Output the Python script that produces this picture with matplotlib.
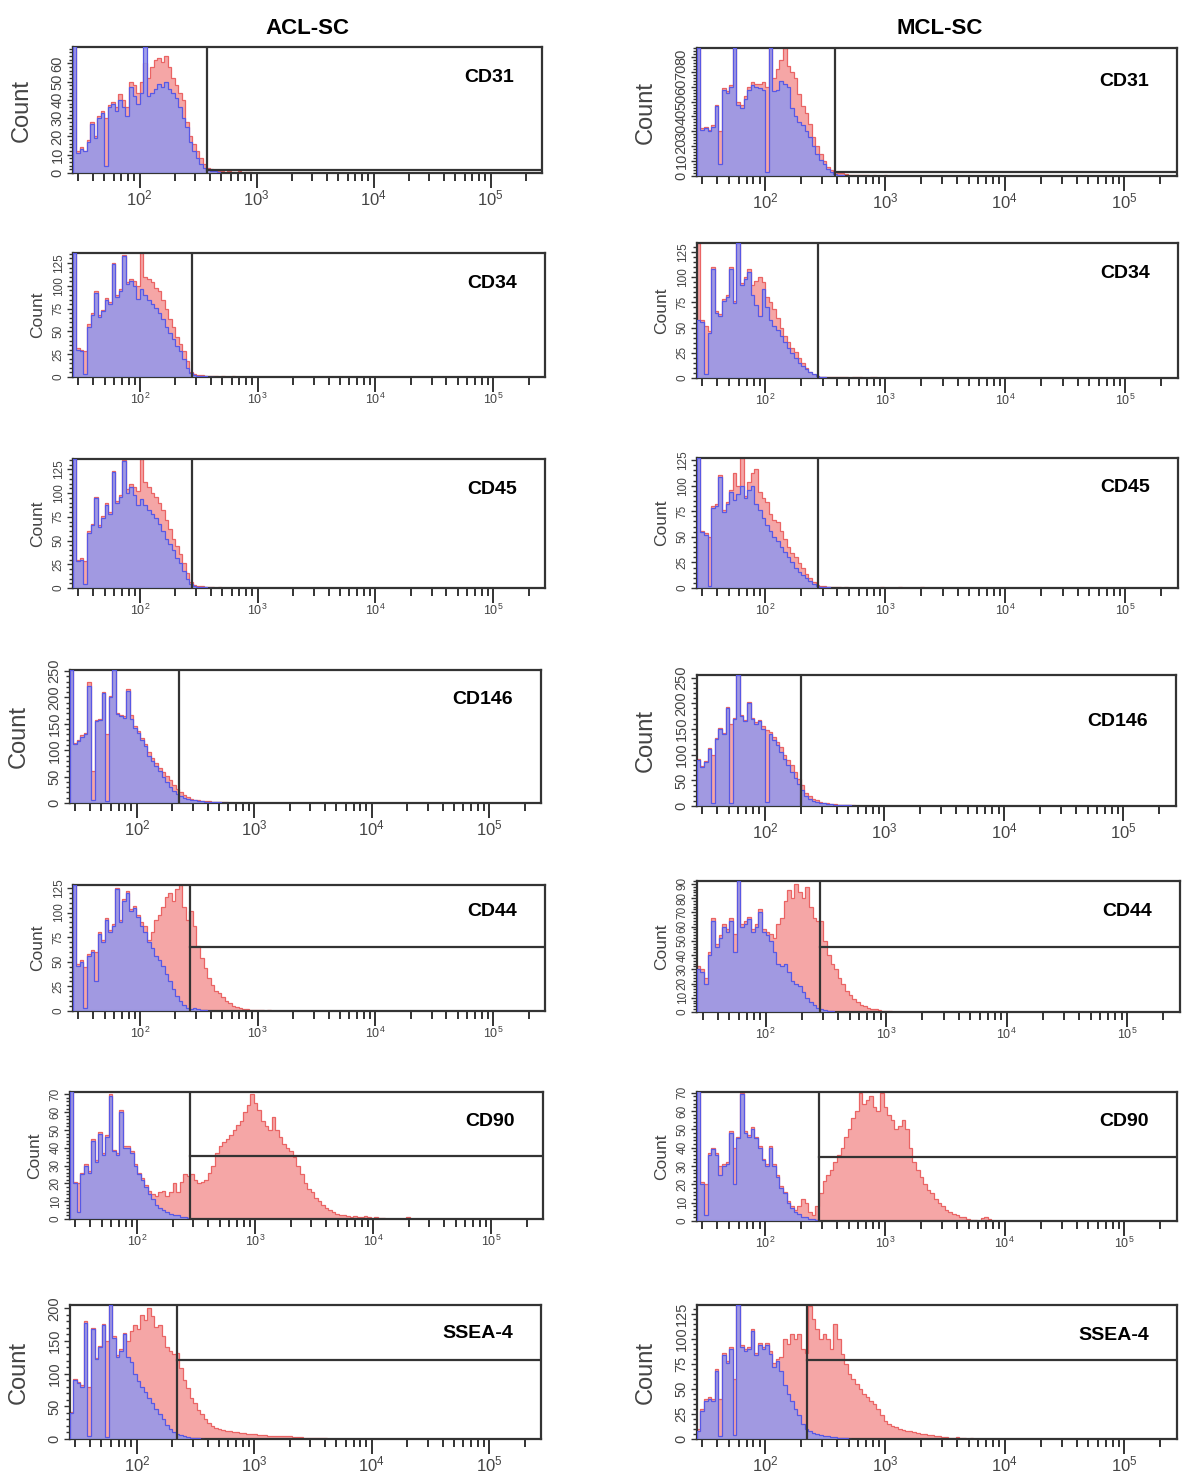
import numpy as np
import matplotlib
matplotlib.use('Agg')
import matplotlib.pyplot as plt
from matplotlib.ticker import FixedLocator, MultipleLocator, NullFormatter

plt.rcParams['font.family'] = ['Liberation Sans', 'DejaVu Sans']
plt.rcParams['mathtext.default'] = 'regular'

columns = ['ACL-SC', 'MCL-SC']
markers = ['CD31', 'CD34', 'CD45', 'CD146', 'CD44', 'CD90', 'SSEA-4']

# histogram channels: log10 intensity bins starting at 10^1.43, 0.03 decade wide
log_start = 1.43
log_step = 0.03

# blue = isotype control, red = stained sample
acl_cd31_blue = [70, 11, 13, 12, 17, 27, 19, 30, 33, 4, 36, 38, 34, 40, 36, 31, 47, 42, 38, 44, 69, 42,
                 44, 46, 49, 47, 50, 46, 44, 41, 36, 30, 25, 17, 12, 8, 5, 3, 2, 1, 1, 0.5]
acl_cd31_red = [70, 12, 14, 12, 18, 28, 20, 31, 34, 30, 37, 39, 36, 43, 40, 36, 50, 48, 44, 50, 60, 52,
                58, 62, 63, 61, 64, 58, 52, 48, 44, 40, 28, 20, 16, 12, 8, 5, 3, 2, 1.5, 1, 1, 0.5,
                1, 0.5, 0.5, 1, 0, 0.5, 0.5]
mcl_cd31_blue = [86, 31, 32, 30, 33, 47, 8, 58, 56, 60, 86, 48, 46, 52, 58, 61, 60, 59, 58, 3, 86, 57,
                 58, 64, 62, 60, 46, 40, 36, 34, 30, 26, 20, 15, 11, 8, 5, 3, 1.5, 1, 0.5]
mcl_cd31_red = [86, 32, 33, 31, 34, 48, 30, 59, 57, 61, 86, 50, 48, 54, 60, 63, 62, 62, 63, 60, 86, 66,
                72, 78, 86, 74, 70, 66, 55, 47, 42, 35, 26, 20, 15, 10, 6, 4, 3, 2, 2, 1.5, 1, 1,
                0.5, 1, 0.5, 0.5, 0, 1, 0, 0, 0.5]

acl_cd34_blue = [136, 30, 28, 3, 55, 68, 92, 66, 72, 85, 80, 124, 88, 94, 133, 102, 105, 100, 86, 96,
                 90, 84, 80, 76, 70, 64, 55, 48, 42, 34, 28, 20, 10, 4, 2, 1.5, 1, 1, 0.5, 0.5]
acl_cd34_red = [136, 32, 30, 28, 58, 70, 94, 68, 74, 87, 82, 125, 90, 96, 134, 104, 108, 105, 100, 136,
                110, 108, 104, 98, 94, 85, 75, 64, 55, 44, 36, 28, 18, 6, 3, 2, 2, 1.5, 1, 1, 1, 0.5,
                1, 0.5, 0.5, 1]
mcl_cd34_blue = [58, 56, 4, 45, 108, 65, 62, 76, 80, 108, 74, 134, 92, 98, 105, 82, 72, 62, 88, 70,
                 58, 52, 48, 42, 36, 30, 25, 20, 15, 12, 9, 6, 4, 2, 1, 0.5]
mcl_cd34_red = [134, 58, 52, 47, 110, 67, 64, 78, 82, 110, 76, 134, 94, 100, 108, 92, 96, 100, 95, 80,
                75, 68, 60, 50, 42, 36, 30, 26, 20, 15, 10, 6, 3, 2, 1, 1, 0.5, 1, 0.5, 0.5, 0.5,
                0.5, 0, 0.5, 0.5, 0.5, 0, 0, 0.5, 0.5]

acl_cd45_blue = [136, 28, 30, 4, 58, 66, 95, 64, 74, 88, 78, 122, 90, 96, 134, 100, 106, 98, 88, 94,
                 88, 82, 78, 74, 68, 60, 52, 46, 40, 32, 26, 18, 10, 4, 2, 1.5, 1, 1, 0.5]
acl_cd45_red = [136, 30, 32, 28, 60, 68, 96, 66, 76, 90, 80, 123, 92, 98, 135, 104, 110, 106, 102, 136,
                112, 106, 100, 96, 90, 82, 72, 62, 52, 44, 36, 26, 16, 6, 3, 2, 2, 1.5, 1, 1, 0.5,
                1, 0.5, 0.5]
mcl_cd45_blue = [127, 55, 52, 2, 78, 80, 108, 74, 82, 94, 86, 92, 100, 88, 96, 100, 82, 76, 68, 62,
                 56, 50, 46, 40, 35, 30, 25, 20, 16, 13, 10, 7, 4, 2, 1, 1, 0.5]
mcl_cd45_red = [127, 56, 54, 50, 80, 82, 110, 76, 84, 96, 112, 100, 127, 90, 104, 112, 116, 94, 88, 84,
                72, 66, 64, 56, 48, 40, 34, 30, 24, 20, 14, 10, 6, 3, 2, 1.5, 1, 1, 0.5, 0.5, 0, 0.5,
                0, 0, 0, 0, 0, 0, 0, 0, 0, 1, 0, 0, 0, 0, 1, 0, 0, 0, 0, 0, 1]

acl_cd146_blue = [252, 112, 118, 125, 130, 222, 5, 155, 158, 208, 4, 200, 252, 168, 165, 162, 212, 160,
                  142, 132, 120, 108, 90, 80, 70, 60, 50, 40, 30, 22, 17, 14, 10, 8, 6, 5, 4, 3, 2,
                  2, 1.5, 1, 1, 0.5, 0.5]
acl_cd146_red = [252, 114, 120, 128, 132, 230, 60, 157, 160, 210, 130, 202, 252, 170, 167, 164, 216, 166,
                 146, 136, 124, 112, 96, 86, 76, 66, 58, 52, 44, 34, 26, 20, 15, 11, 8, 6, 5, 4, 3,
                 3, 2, 2, 1.5, 1, 1, 0.5]
mcl_cd146_blue = [90, 75, 85, 110, 5, 130, 150, 140, 190, 6, 170, 255, 175, 165, 200, 170, 160, 165,
                  150, 8, 140, 128, 118, 105, 92, 80, 66, 55, 42, 32, 20, 14, 10, 8, 6, 5, 4, 3, 2,
                  2, 1.5, 1, 1, 0.5]
mcl_cd146_red = [92, 77, 87, 112, 100, 132, 152, 142, 192, 160, 172, 255, 178, 168, 202, 172, 163, 168,
                 155, 148, 145, 134, 125, 114, 100, 90, 80, 66, 52, 40, 26, 20, 14, 11, 8, 6, 5, 4,
                 3, 2, 2, 1.5, 1, 1, 0.5]

acl_cd44_blue = [128, 46, 50, 3, 56, 60, 30, 78, 70, 92, 80, 86, 124, 90, 112, 120, 102, 105, 96, 86,
                 80, 70, 64, 56, 52, 46, 38, 30, 22, 15, 10, 6, 3, 2, 3, 2, 1, 1, 0.5]
acl_cd44_red = [128, 48, 52, 45, 58, 62, 60, 80, 72, 94, 82, 88, 125, 92, 114, 122, 104, 107, 98, 90,
                86, 72, 80, 92, 98, 106, 116, 120, 112, 124, 128, 106, 92, 102, 86, 66, 54, 44, 34,
                26, 20, 18, 14, 10, 8, 5, 4, 3, 2, 2, 1.5, 1, 1, 1, 0.5, 1, 0.5, 0.5, 0.5, 0.5]
mcl_cd44_blue = [30, 28, 20, 40, 64, 46, 52, 60, 56, 64, 42, 92, 60, 62, 65, 56, 60, 70, 56, 54, 50, 42,
                 34, 32, 34, 28, 22, 20, 18, 14, 10, 7, 5, 3, 2, 1.5, 1, 0.5]
mcl_cd44_red = [32, 30, 24, 42, 66, 48, 54, 62, 58, 66, 55, 92, 62, 64, 67, 58, 62, 72, 58, 56, 55, 52,
                62, 66, 78, 86, 80, 90, 84, 80, 88, 74, 66, 64, 64, 50, 40, 34, 30, 24, 20, 15, 12,
                9, 7, 5, 4, 3, 2, 2, 1.5, 1, 1, 0.5]

acl_cd90_blue = [72, 20, 4, 25, 30, 26, 44, 32, 48, 36, 46, 69, 38, 36, 60, 40, 40, 37, 30, 25, 22, 18,
                 14, 11, 8, 6, 5, 4, 3, 2, 2, 1, 1, 0.5]
acl_cd90_red = [72, 21, 20, 26, 31, 27, 45, 33, 49, 37, 47, 70, 39, 37, 61, 41, 41, 38, 31, 26, 23, 19,
                16, 14, 13, 15, 16, 13, 15, 20, 15, 21, 25, 24, 25, 22, 20, 21, 22, 26, 30, 37, 41,
                43, 45, 47, 50, 53, 55, 60, 64, 70, 65, 61, 55, 52, 50, 57, 50, 46, 42, 40, 38, 35,
                30, 25, 20, 17, 15, 12, 10, 8, 6, 5, 4, 3, 2, 2, 1.5, 1, 1.5, 1, 1, 1.5, 1, 0.5, 1,
                0.5, 0.5, 0, 0, 0, 0, 0, 0, 1]
mcl_cd90_blue = [71, 20, 3, 36, 39, 36, 25, 30, 31, 48, 20, 45, 69, 48, 46, 50, 45, 40, 33, 30, 40, 30,
                 24, 18, 15, 10, 7, 5, 4, 2, 2, 1, 1, 0.5]
mcl_cd90_red = [71, 21, 20, 37, 40, 37, 30, 31, 32, 49, 40, 46, 70, 49, 47, 51, 46, 41, 34, 31, 41, 31,
                25, 19, 16, 11, 8, 6, 8, 12, 10, 5, 3, 8, 15, 22, 25, 28, 32, 36, 40, 46, 50, 56, 60,
                70, 64, 66, 68, 62, 60, 70, 62, 58, 55, 50, 52, 55, 50, 40, 32, 28, 24, 20, 17, 15,
                12, 10, 8, 6, 5, 4, 3, 2, 2, 1, 0.5, 0.5, 0, 1.5, 2, 1]

acl_ssea4_blue = [40, 90, 85, 80, 178, 4, 168, 122, 140, 174, 3, 205, 155, 125, 135, 160, 125, 118, 100,
                  88, 80, 72, 62, 55, 46, 38, 30, 22, 15, 10, 8, 6, 5, 3, 2, 1.5, 1, 0.5]
acl_ssea4_red = [42, 92, 87, 82, 180, 80, 170, 124, 142, 176, 150, 205, 157, 128, 138, 162, 150, 165,
                 175, 168, 190, 182, 200, 188, 172, 174, 158, 140, 134, 130, 132, 108, 90, 78, 62,
                 55, 44, 38, 30, 25, 20, 17, 15, 14, 13, 12, 11, 10, 9, 9, 8, 7, 7, 6, 6, 6, 5, 5,
                 5, 5, 4, 4, 4, 3, 3, 3, 2, 2, 2, 2, 1.5, 1, 1, 0.5]
mcl_ssea4_blue = [8, 28, 38, 40, 38, 68, 3, 84, 76, 90, 4, 134, 92, 88, 90, 108, 84, 94, 90, 94, 85, 72,
                  78, 68, 54, 45, 38, 30, 24, 15, 10, 8, 6, 5, 4, 3, 3, 2, 2, 1.5, 1, 1, 0.5]
mcl_ssea4_red = [10, 30, 40, 42, 40, 70, 40, 86, 78, 92, 60, 134, 94, 90, 92, 110, 86, 96, 92, 96, 88,
                 76, 80, 82, 100, 95, 105, 100, 105, 90, 86, 133, 120, 110, 100, 105, 100, 90, 115,
                 100, 85, 75, 65, 60, 55, 50, 45, 42, 38, 35, 30, 24, 18, 15, 13, 12, 10, 9, 8, 8, 7,
                 6, 5, 5, 4, 4, 3, 3, 2, 2, 1.5, 1, 2, 1, 1, 0.5, 1, 0.5]

acl_blue = [acl_cd31_blue, acl_cd34_blue, acl_cd45_blue, acl_cd146_blue, acl_cd44_blue, acl_cd90_blue, acl_ssea4_blue]
acl_red = [acl_cd31_red, acl_cd34_red, acl_cd45_red, acl_cd146_red, acl_cd44_red, acl_cd90_red, acl_ssea4_red]
mcl_blue = [mcl_cd31_blue, mcl_cd34_blue, mcl_cd45_blue, mcl_cd146_blue, mcl_cd44_blue, mcl_cd90_blue, mcl_ssea4_blue]
mcl_red = [mcl_cd31_red, mcl_cd34_red, mcl_cd45_red, mcl_cd146_red, mcl_cd44_red, mcl_cd90_red, mcl_ssea4_red]

# marker gates: vertical cut (intensity) and horizontal bar (count)
acl_gate = [380, 276, 278, 228, 268, 280, 219]
mcl_gate = [383, 276, 276, 200, 283, 281, 223]
acl_level = [1.6, None, None, None, 65, 35.4, 121]
mcl_level = [3, None, None, None, 45.6, 34.9, 79]
acl_ymax = [69, 136, 136, 252, 128, 71.3, 205]
mcl_ymax = [86, 134, 127, 255, 92, 70.3, 134]
acl_ystep = [10, 25, 25, 50, 25, 10, 50]
mcl_ystep = [10, 25, 25, 50, 10, 10, 25]

# panel frames in pixels: left, right, top, bottom
acl_frames = [(73, 542, 47, 173), (73, 545, 253, 377), (73, 545, 459, 588), (70, 541, 670, 803),
              (73, 545, 885, 1011), (70, 543, 1092, 1219), (70, 541, 1305, 1439)]
mcl_frames = [(697, 1177, 48, 176), (697, 1178, 243, 378), (697, 1178, 458, 588), (697, 1176, 675, 806),
              (697, 1180, 881, 1012), (697, 1177, 1092, 1221), (697, 1177, 1305, 1439)]
acl_text_drop = [30, 30, 31, 30, 27, 30, 28]
mcl_text_drop = [33, 30, 30, 47, 31, 30, 30]
big_rows = [0, 3, 6]

W, H = 1200, 1483
fig = plt.figure(figsize=(W / 100, H / 100), dpi=100)
fig.patch.set_facecolor('white')

XMIN, XMAX = 27, 275000
frame_col = '#333333'
minor_x = [m * 10 ** e for e in range(1, 6) for m in range(2, 10) if XMIN <= m * 10 ** e <= XMAX]


def draw_panel(frame, blue, red, gate, level, ymax, ystep, marker, drop, big):
    left, right, top, bottom = frame
    ax = fig.add_axes([left / W, 1 - bottom / H, (right - left) / W, (bottom - top) / H])
    e_red = 10 ** (log_start + log_step * np.arange(len(red) + 1))
    e_blue = 10 ** (log_start + log_step * np.arange(len(blue) + 1))
    ax.stairs(red, e_red, fill=True, color='#f5a6a6', zorder=1)
    ax.stairs(red, e_red, color='#ea6464', lw=0.9, zorder=2)
    ax.stairs(blue, e_blue, fill=True, color='#9898e8', alpha=0.9, zorder=3)
    ax.stairs(blue, e_blue, color='#5858e4', lw=0.9, zorder=4)

    ax.set_xscale('log')
    ax.set_xlim(XMIN, XMAX)
    ax.set_ylim(0, ymax)

    ax.plot([gate, gate], [0, ymax], color=frame_col, lw=1.6, zorder=5)
    if level is not None:
        ax.plot([gate, XMAX], [level, level], color=frame_col, lw=1.6, zorder=5)

    for s in ax.spines.values():
        s.set_color(frame_col)
        s.set_linewidth(1.6)

    ax.xaxis.set_major_locator(FixedLocator([1e2, 1e3, 1e4, 1e5]))
    ax.xaxis.set_major_formatter(plt.FixedFormatter(['$10^{2}$', '$10^{3}$', '$10^{4}$', '$10^{5}$']))
    ax.xaxis.set_minor_locator(FixedLocator(minor_x))
    ax.xaxis.set_minor_formatter(NullFormatter())
    ax.yaxis.set_major_locator(MultipleLocator(ystep))
    ax.yaxis.set_minor_locator(MultipleLocator(ystep / 5))

    xfs = 12 if big else 9
    yfs = 10.5 if big else 8.5
    ax.tick_params(axis='x', which='major', direction='out', length=11, width=1.4,
                   pad=0, labelsize=xfs, colors=frame_col, labelcolor='#444444')
    ax.tick_params(axis='x', which='minor', direction='out', length=6, width=1.4, colors=frame_col)
    ax.tick_params(axis='y', which='major', direction='out', length=4, width=1.0,
                   pad=2, labelsize=yfs, colors=frame_col, labelcolor='#444444')
    ax.tick_params(axis='y', which='minor', direction='out', length=3, width=1.0, colors=frame_col)
    for lbl in ax.get_yticklabels():
        lbl.set_rotation(90)
        lbl.set_va('center')

    ax.set_ylabel('Count', fontsize=17 if big else 12.5, color='#444444')
    ax.yaxis.set_label_coords(-(40 if big else 28) / (right - left), 0.5)

    ax.text(1 - 28 / (right - left), 1 - drop / (bottom - top), marker, transform=ax.transAxes,
            ha='right', va='center', fontsize=14, fontweight='bold', zorder=6)
    return ax


for i in range(len(markers)):
    draw_panel(acl_frames[i], acl_blue[i], acl_red[i], acl_gate[i], acl_level[i], acl_ymax[i],
               acl_ystep[i], markers[i], acl_text_drop[i], i in big_rows)
    draw_panel(mcl_frames[i], mcl_blue[i], mcl_red[i], mcl_gate[i], mcl_level[i], mcl_ymax[i],
               mcl_ystep[i], markers[i], mcl_text_drop[i], i in big_rows)

fig.text(307 / W, 1 - 28 / H, columns[0], ha='center', va='center', fontsize=16, fontweight='bold')
fig.text(940 / W, 1 - 28 / H, columns[1], ha='center', va='center', fontsize=16, fontweight='bold')

fig.savefig('out.png', dpi=100, facecolor='white')
